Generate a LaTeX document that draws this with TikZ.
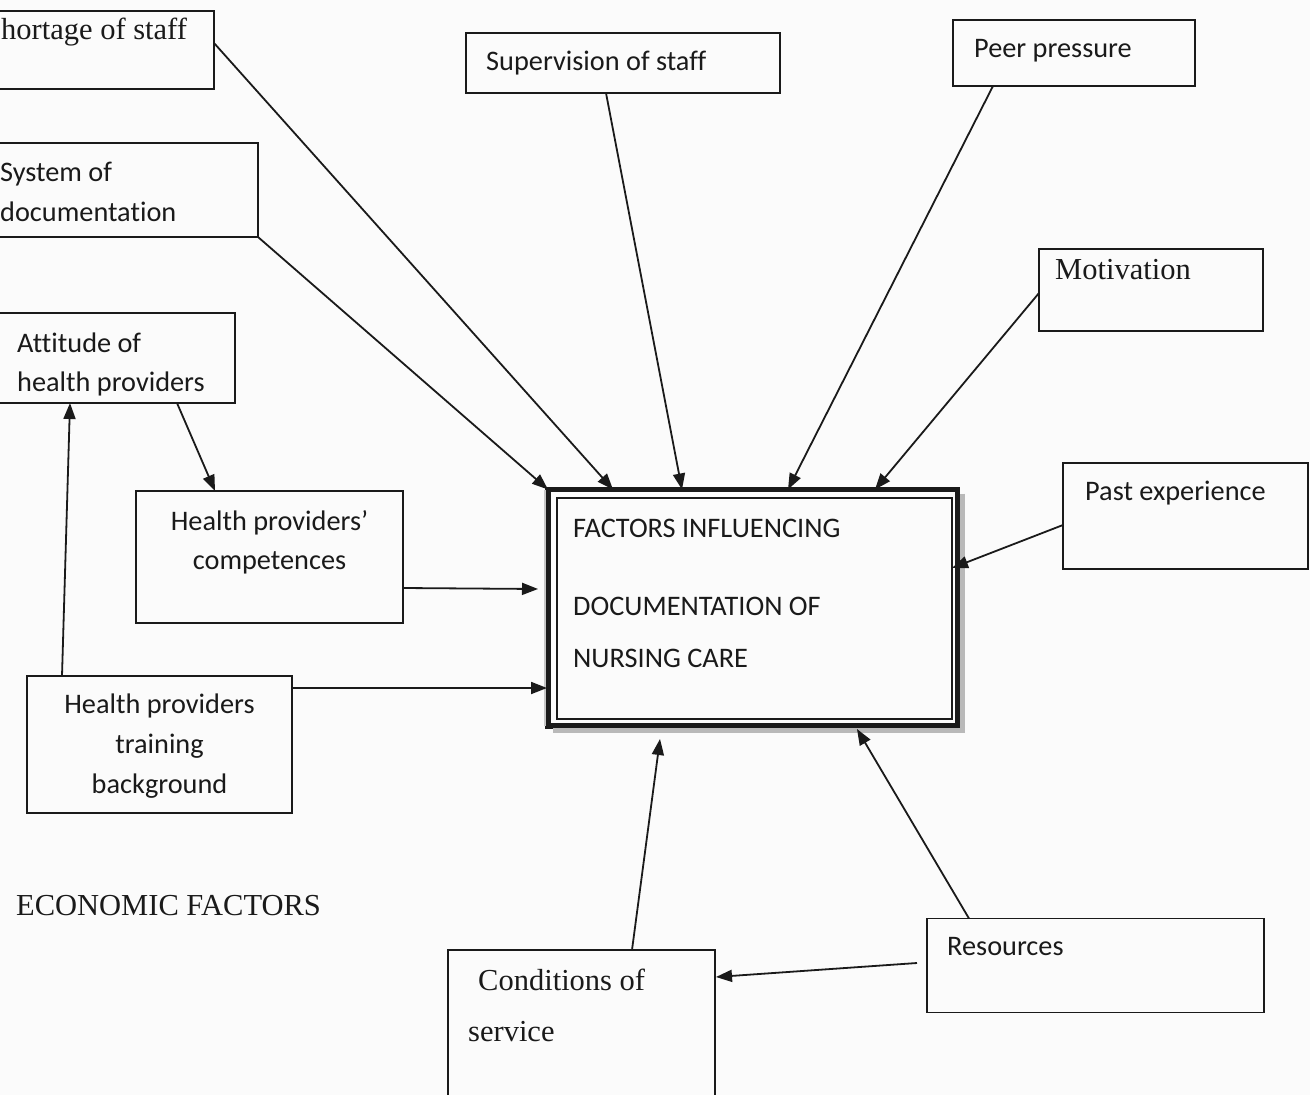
\documentclass[tikz,border=0pt]{standalone}
\usepackage{fontspec}
\setmainfont{Liberation Serif}
\newfontfamily\calfont[Ligatures=NoCommon]{Carlito}
\usetikzlibrary{arrows.meta,calc}
\definecolor{ink}{HTML}{1A1A1A}
\definecolor{paper}{HTML}{FBFBFB}
\begin{document}
\begin{tikzpicture}[x=1pt,y=-1pt,
  box/.style={draw=ink, line width=1.7pt, rectangle, inner sep=0pt, outer sep=0pt},
  sans/.style={font=\calfont\fontsize{28.3}{40}\selectfont, text=ink, inner sep=0pt, anchor=base west},
  sansc/.style={font=\calfont\fontsize{28.3}{40}\selectfont, text=ink, inner sep=0pt, anchor=base},
  serif/.style={font=\fontsize{30.5}{42}\selectfont, text=ink, inner sep=0pt, anchor=base west},
  conn/.style={draw=ink, line width=1.8pt, -{Triangle[length=16pt,width=12pt]}}]
\useasboundingbox (0,0) rectangle (1310,1095);
\clip (0,0) rectangle (1310,1095);
\fill[paper] (0,0) rectangle (1310,1095);

% boxes
\node[box, minimum width=244pt, minimum height=78pt]  (short)  at (92,50) {};
\node[box, minimum width=288pt, minimum height=94pt]  (sysdoc) at (114,190) {};
\node[box, minimum width=314pt, minimum height=60pt]  (superv) at (623,63) {};
\node[box, minimum width=242pt, minimum height=66pt]  (peer)   at (1074,53) {};
\node[box, minimum width=224pt, minimum height=82pt]  (motiv)  at (1151,290) {};
\node[box, minimum width=245pt, minimum height=106pt] (past)   at (1185.5,516) {};
\node[box, minimum width=265pt, minimum height=90pt]  (attit)  at (102.5,358) {};
\node[box, minimum width=267pt, minimum height=132pt] (compet) at (269.5,557) {};
\node[box, minimum width=265pt, minimum height=137pt] (train)  at (159.5,744.5) {};
\node[box, minimum width=267pt, minimum height=170pt] (cond)   at (581.5,1035) {};
\node[box, minimum width=337pt, minimum height=94pt]  (resrc)  at (1095.5,965.5) {};

% central box
\node[draw=ink, line width=5.5pt, rectangle, inner sep=0pt, outer sep=0pt,
      minimum width=409.5pt, minimum height=236.5pt] (main) at (752.75,607.75) {};
\draw[gray!55, line width=5pt] ([shift={(5pt,-4pt)}]main.north east)
   -- ([shift={(5pt,-4pt)}]main.south east) -- ([shift={(5pt,-4pt)}]main.south west);
\draw[gray!45, line width=2pt] ([shift={(-3.5pt,0pt)}]main.north west) -- ([shift={(-3.5pt,0pt)}]main.south west);
\draw[ink, line width=1.3pt] ([shift={(9pt,-8.5pt)}]main.north west) rectangle ([shift={(-5.5pt,7pt)}]main.south east);

% texts
\node[serif] (tshort) at (1,39) {hortage of staff};
\node[sans] (tsys1) at (0,181) {System of};
\node[sans] (tsys2) at (0,221) {documentation};
\node[sans] (tsup) at (486,70) {Supervision of staff};
\node[sans] (tpeer) at (974,57) {Peer pressure};
\node[serif] (tmot) at (1055,279) {Motivation};
\node[sans] (tpast) at (1085,500) {Past experience};
\node[sans] (tatt1) at (17,352) {Attitude of};
\node[sans] (tatt2) at (17,391) {health providers};
\node[sansc] (tcom1) at (269.5,530) {Health providers’};
\node[sansc] (tcom2) at (269.5,569) {competences};
\node[sansc] (ttr1) at (159.5,713) {Health providers};
\node[sansc] (ttr2) at (159.5,753) {training};
\node[sansc] (ttr3) at (159.5,793) {background};
\node[sans] (tm1) at (573,537) {FACTORS INFLUENCING};
\node[sans] (tm2) at (573,615) {DOCUMENTATION OF};
\node[sans] (tm3) at (573,667) {NURSING CARE};
\node[serif] (tcon1) at (478,990) {Conditions of};
\node[serif] (tcon2) at (468,1041) {service};
\node[sans] (tres) at (947,955) {Resources};
\node[serif] (teco) at (16,915) {ECONOMIC FACTORS};

% connectors
\draw[conn] ([yshift=-32pt]short.north east) -- ([xshift=65pt]main.north west);
\draw[conn] (sysdoc.south east) -- (main.north west);
\draw[conn] ([xshift=140pt]superv.south west) -- ([xshift=134pt]main.north west);
\draw[conn] ([xshift=40pt]peer.south west) -- ([xshift=240pt]main.north west);
\draw[conn] ([yshift=-3pt]motiv.west) -- ([xshift=327pt]main.north west);
\draw[conn] ([yshift=-9pt]past.west) -- ([xshift=-5.5pt,yshift=39.75pt]main.east);
\draw[conn] ([yshift=-31pt]compet.east) -- ([xshift=-10pt,yshift=18.75pt]main.west);
\draw[conn] ([yshift=-12pt]train.north east) -- ([xshift=-1pt,yshift=-80.25pt]main.west);
\draw[conn] ([xshift=35pt]train.north west) -- ([xshift=100pt]attit.south west);
\draw[conn] ([xshift=207pt]attit.south west) -- ([xshift=79pt]compet.north west);
\draw[conn] ([xshift=184pt]cond.north west) -- ([xshift=112pt,yshift=-13pt]main.south west);
\draw[conn] ([xshift=42pt]resrc.north west) -- ([xshift=309pt,yshift=-3pt]main.south west);
\draw[conn] ([xshift=-10pt,yshift=2.5pt]resrc.west) -- ([xshift=1pt,yshift=58pt]cond.east);
\end{tikzpicture}
\end{document}
